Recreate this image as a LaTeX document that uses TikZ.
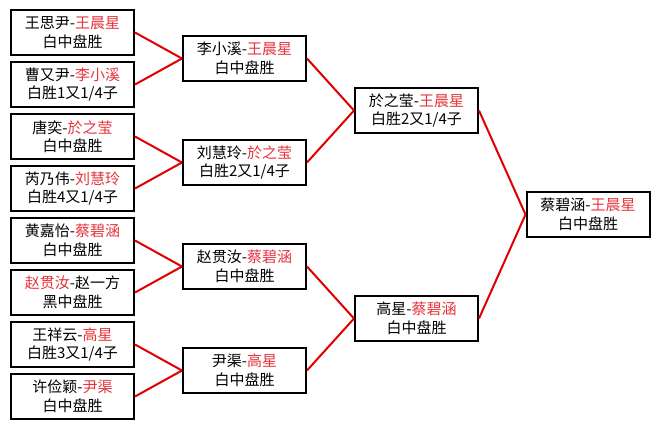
\documentclass[tikz,border=0pt]{standalone}
\usepackage{fontspec}
\setmainfont{Noto Sans CJK SC}
\usepackage{xcolor}
\usepackage{tikz}
\usetikzlibrary{arrows.meta, positioning}
\definecolor{winner}{HTML}{E5343C}
\definecolor{linkred}{HTML}{E00000}
\newcommand{\winname}[1]{\textcolor{winner}{#1}}

\begin{document}
\begin{tikzpicture}[
    x=1pt, y=-1pt,
    game/.style={draw, line width=2pt, minimum width=123pt, minimum height=45pt, inner sep=0pt, align=center, font=\fontsize{15}{18.5}\selectfont},
    link/.style={linkred, line width=2pt},
]
    \useasboundingbox[fill=white] (0, 0) rectangle (659, 429);

    % first round
    \node[game] (q1) at (72.5, 32.5) {王思尹-\winname{王晨星}\\白中盘胜};
    \node[game] (q2) at (72.5, 84.5) {曹又尹-\winname{李小溪}\\白胜1又1/4子};
    \node[game] (q3) at (72.5, 136.5) {唐奕-\winname{於之莹}\\白中盘胜};
    \node[game] (q4) at (72.5, 188.5) {芮乃伟-\winname{刘慧玲}\\白胜4又1/4子};
    \node[game] (q5) at (72.5, 240.5) {黄嘉怡-\winname{蔡碧涵}\\白中盘胜};
    \node[game] (q6) at (72.5, 292.5) {\winname{赵贯汝}-赵一方\\黑中盘胜};
    \node[game] (q7) at (72.5, 344.5) {王祥云-\winname{高星}\\白胜3又1/4子};
    \node[game] (q8) at (72.5, 396.5) {许俭颖-\winname{尹渠}\\白中盘胜};

    % second round
    \node[game] (s1) at (244.5, 58.5) {李小溪-\winname{王晨星}\\白中盘胜};
    \node[game] (s2) at (244.5, 162.5) {刘慧玲-\winname{於之莹}\\白胜2又1/4子};
    \node[game] (s3) at (244.5, 266.5) {赵贯汝-\winname{蔡碧涵}\\白中盘胜};
    \node[game] (s4) at (244.5, 370.5) {尹渠-\winname{高星}\\白中盘胜};

    % semi-finals and final
    \node[game] (f1) at (416.5, 110.5) {於之莹-\winname{王晨星}\\白胜2又1/4子};
    \node[game] (f2) at (416.5, 318.5) {高星-\winname{蔡碧涵}\\白中盘胜};
    \node[game] (champ) at (588, 214.5) {蔡碧涵-\winname{王晨星}\\白中盘胜};

    \draw[link] (q1.east) -- (s1.west);
    \draw[link] (q2.east) -- (s1.west);
    \draw[link] (q3.east) -- (s2.west);
    \draw[link] (q4.east) -- (s2.west);
    \draw[link] (q5.east) -- (s3.west);
    \draw[link] (q6.east) -- (s3.west);
    \draw[link] (q7.east) -- (s4.west);
    \draw[link] (q8.east) -- (s4.west);

    \draw[link] (s1.east) -- (f1.west);
    \draw[link] (s2.east) -- (f1.west);
    \draw[link] (s3.east) -- (f2.west);
    \draw[link] (s4.east) -- (f2.west);

    \draw[link] (f1.east) -- (champ.west);
    \draw[link] (f2.east) -- (champ.west);
\end{tikzpicture}
\end{document}
